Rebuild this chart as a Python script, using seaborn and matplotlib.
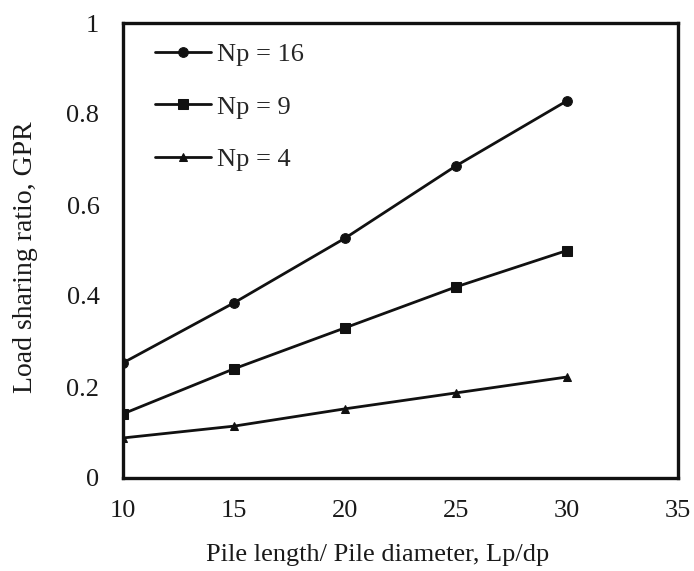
import matplotlib
matplotlib.use("Agg")
import matplotlib.pyplot as plt
import seaborn as sns
import pandas as pd

ratio = [10, 15, 20, 25, 30]
gpr_np16 = [0.253, 0.385, 0.527, 0.686, 0.829]
gpr_np9 = [0.141, 0.240, 0.330, 0.420, 0.500]
gpr_np4 = [0.088, 0.114, 0.152, 0.187, 0.222]
series_labels = ["Np = 16", "Np = 9", "Np = 4"]
x_ticks = [10, 15, 20, 25, 30, 35]
y_ticks = [0, 0.2, 0.4, 0.6, 0.8, 1]
y_tick_labels = ["0", "0.2", "0.4", "0.6", "0.8", "1"]

rows = []
for lab, vals in zip(series_labels, [gpr_np16, gpr_np9, gpr_np4]):
    for x, y in zip(ratio, vals):
        rows.append({"ratio": x, "gpr": y, "Np": lab})
df = pd.DataFrame(rows)

sns.set_theme(style="white")
plt.rcParams["font.family"] = ["Liberation Serif", "DejaVu Serif"]

fig = plt.figure(figsize=(6.94, 5.71), dpi=100)
ax = fig.add_axes([123 / 694, 1 - 478 / 571, (678 - 123) / 694, (478 - 23) / 571])

markers = {"Np = 16": "o", "Np = 9": "s", "Np = 4": "^"}
sizes_m = {"Np = 16": 7, "Np = 9": 7.5, "Np = 4": 5.5}
for lab in series_labels:
    sub = df[df["Np"] == lab]
    sns.lineplot(data=sub, x="ratio", y="gpr", ax=ax, color="#111111",
                 marker=markers[lab], markersize=sizes_m[lab], linewidth=2.0,
                 markeredgecolor="#111111", label=lab)

ax.set_xlim(10, 35)
ax.set_ylim(0, 1)
ax.set_xticks(x_ticks)
ax.set_yticks(y_ticks)
ax.set_yticklabels(y_tick_labels)
ax.tick_params(axis="both", length=0, labelsize=19, colors="#1a1a1a")
ax.tick_params(axis="x", pad=16)
ax.tick_params(axis="y", pad=17)
for sp in ax.spines.values():
    sp.set_linewidth(2.4)
    sp.set_color("#111111")
ax.set_xlabel("Pile length/ Pile diameter, Lp/dp", fontsize=19, color="#1a1a1a", va="center")
ax.set_ylabel("Load sharing ratio, GPR", fontsize=20, color="#1a1a1a", va="center")
ax.xaxis.set_label_coords(0.459, -0.169)
ax.yaxis.set_label_coords(-0.175, 0.486)

leg = ax.legend(loc="upper left", frameon=False, fontsize=19, labelspacing=1.1,
                handlelength=2.1, handletextpad=0.25, borderaxespad=0.0, borderpad=0.0,
                bbox_to_anchor=(0.058, 0.957))

fig.savefig("out.png", dpi=100)
